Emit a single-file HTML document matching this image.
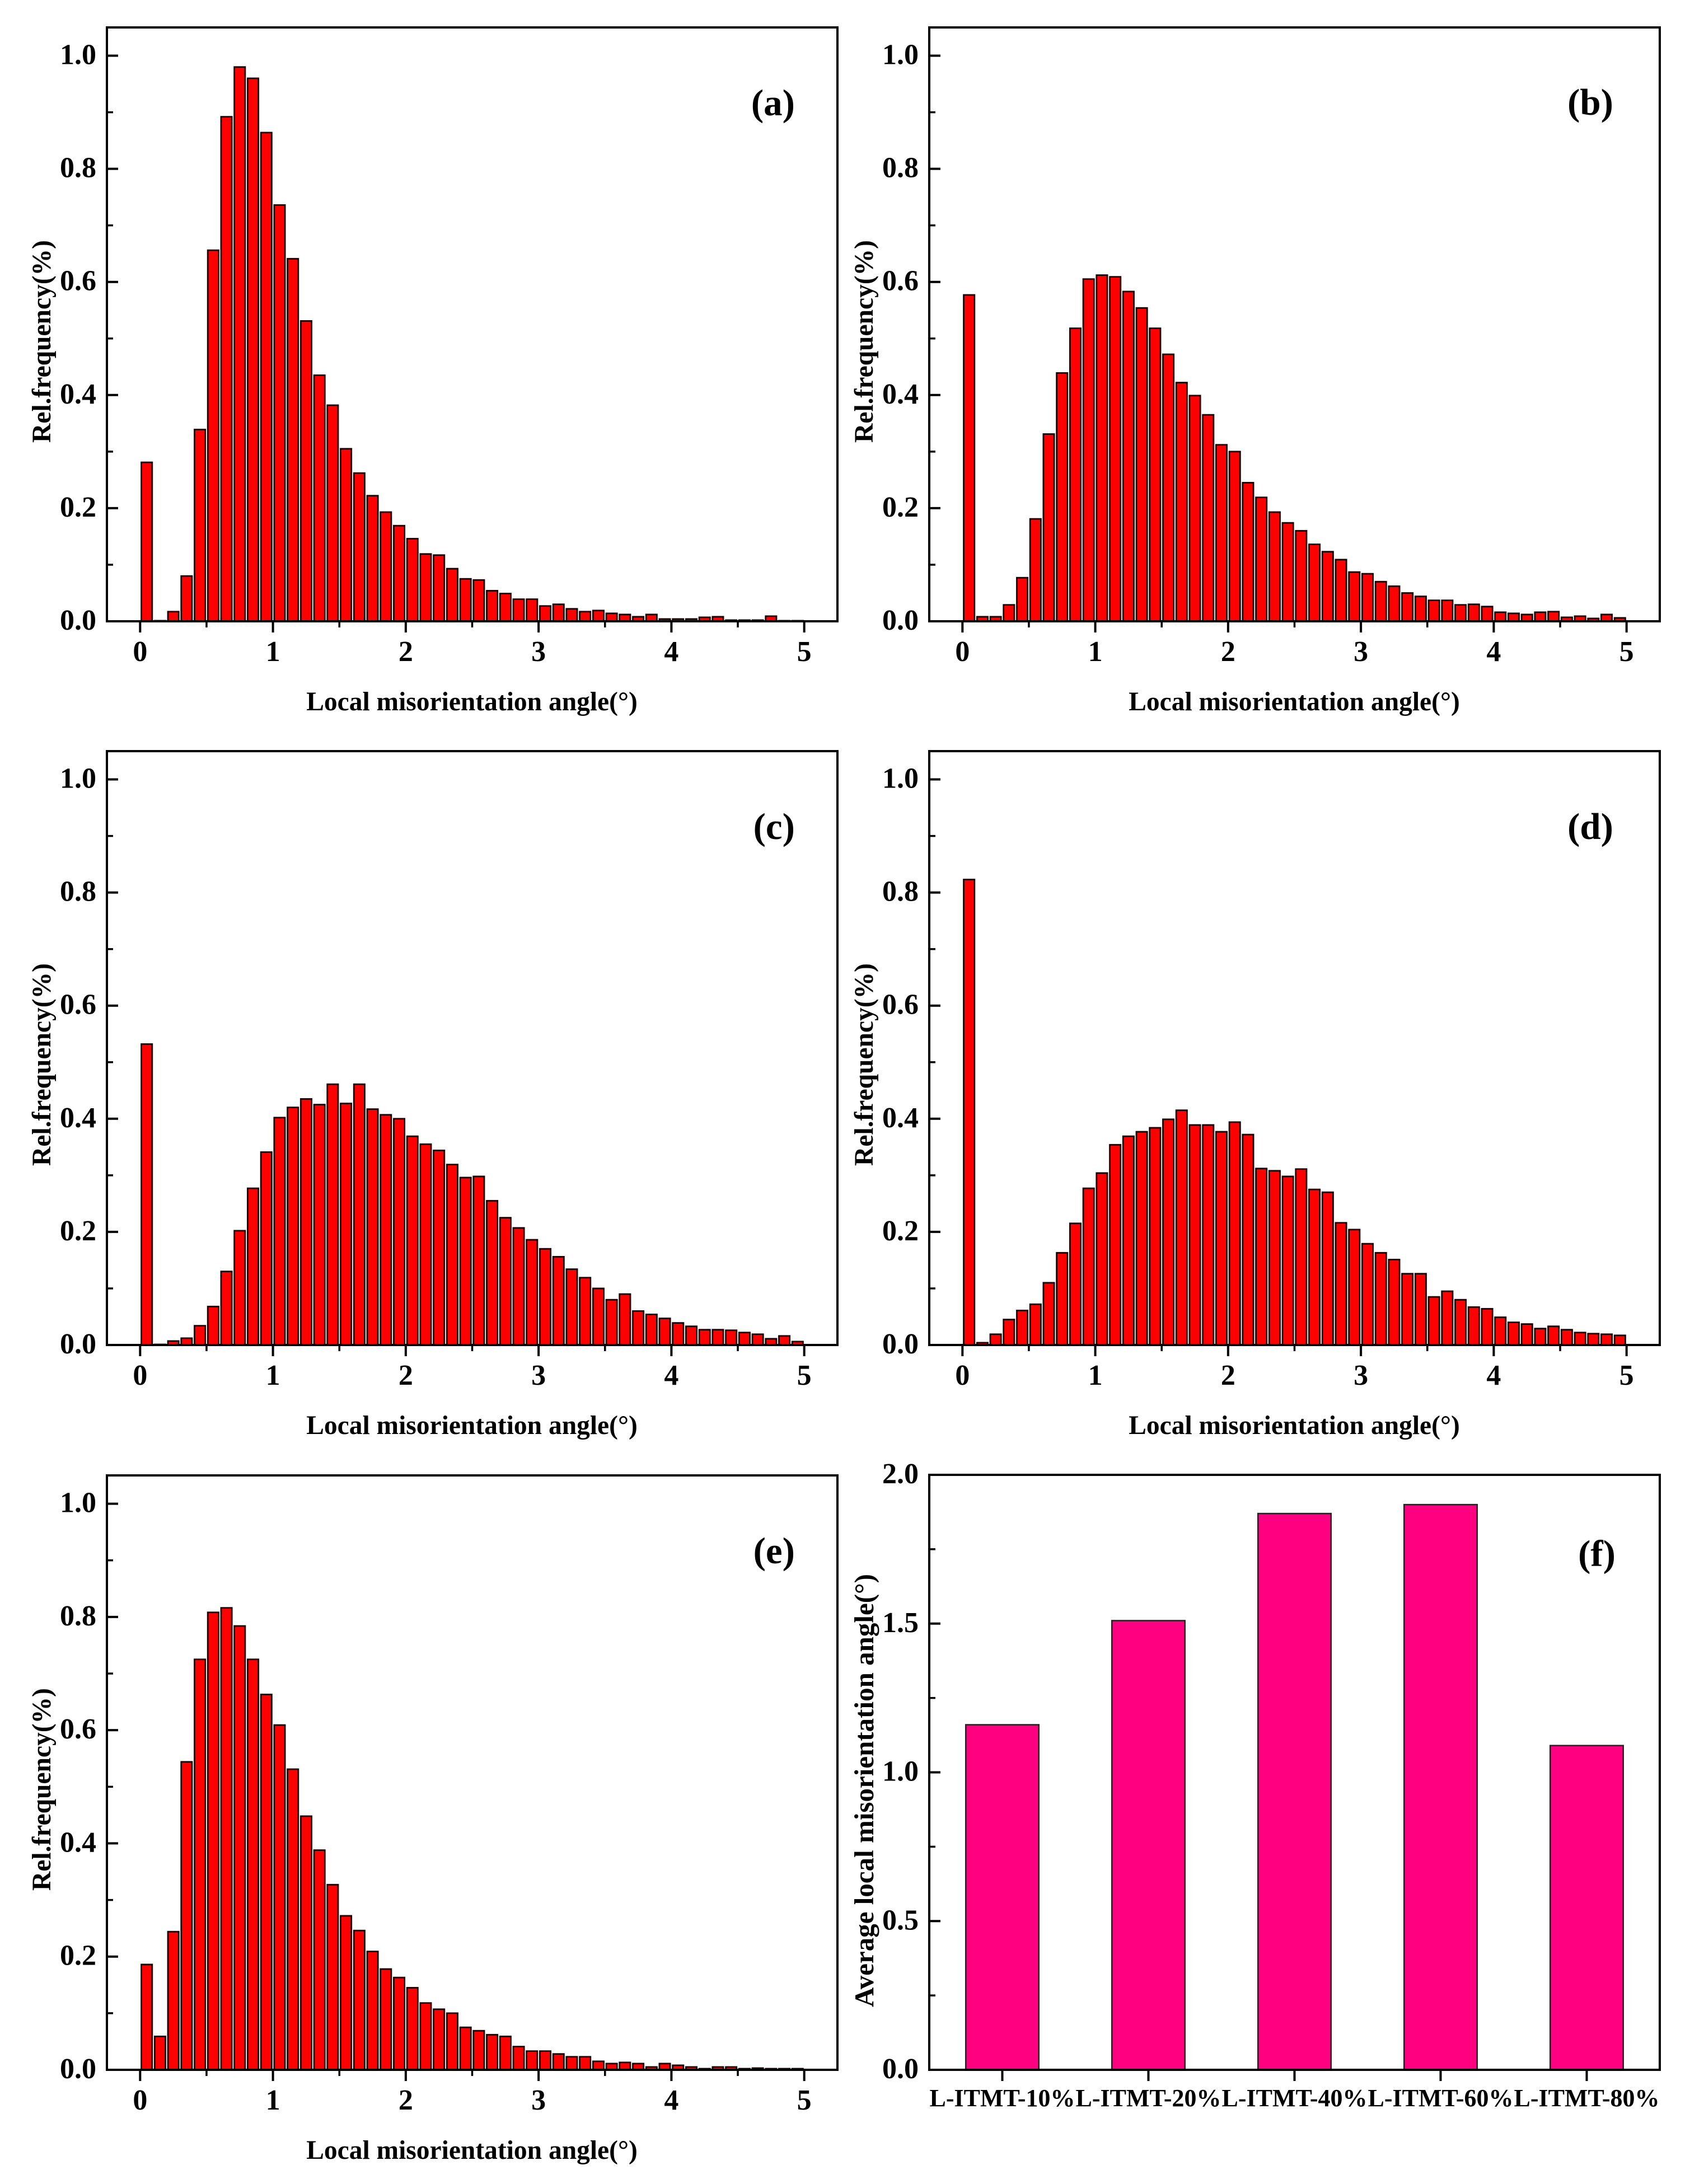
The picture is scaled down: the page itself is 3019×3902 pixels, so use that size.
<!DOCTYPE html>
<html lang="en">
<head>
<meta charset="utf-8">
<title>Local misorientation angle distributions</title>
<style>
  html, body { margin: 0; padding: 0; background: #ffffff; }
  svg { display: block; }
  text { font-family: "Liberation Serif", "Times New Roman", serif; font-weight: bold; fill: #000; }
  .tick-label { font-size: 52px; }
  .axis-title { font-size: 47.5px; }
  .panel-tag { font-size: 67px; text-anchor: end; }
  .cat-label { font-size: 44px; text-anchor: middle; }
  .frame { fill: none; stroke: #000; stroke-width: 4; }
</style>
</head>
<body>
<svg id="figure" xmlns="http://www.w3.org/2000/svg" width="3019" height="3902" viewBox="0 0 3019 3902">
  <rect x="0" y="0" width="3019" height="3902" fill="#ffffff"/>

  <g id="panel-a">
    <g class="marks"></g>
    <rect class="frame" x="191" y="49" width="1305" height="1061"/>
    <g class="ticks"></g>
    <text class="axis-title" x="843" y="1269" text-anchor="middle">Local misorientation angle(°)</text>
    <text class="axis-title" transform="translate(90 610) rotate(-90)" text-anchor="middle">Rel.frequency(%)</text>
    <text class="panel-tag" x="1420" y="206">(a)</text>
  </g>

  <g id="panel-b">
    <g class="marks"></g>
    <rect class="frame" x="1660" y="49" width="1305" height="1061"/>
    <g class="ticks"></g>
    <text class="axis-title" x="2312" y="1269" text-anchor="middle">Local misorientation angle(°)</text>
    <text class="axis-title" transform="translate(1559 610) rotate(-90)" text-anchor="middle">Rel.frequency(%)</text>
    <text class="panel-tag" x="2882" y="205">(b)</text>
  </g>

  <g id="panel-c">
    <g class="marks"></g>
    <rect class="frame" x="191" y="1342" width="1305" height="1061"/>
    <g class="ticks"></g>
    <text class="axis-title" x="843" y="2562" text-anchor="middle">Local misorientation angle(°)</text>
    <text class="axis-title" transform="translate(90 1902) rotate(-90)" text-anchor="middle">Rel.frequency(%)</text>
    <text class="panel-tag" x="1420" y="1499">(c)</text>
  </g>

  <g id="panel-d">
    <g class="marks"></g>
    <rect class="frame" x="1660" y="1342" width="1305" height="1061"/>
    <g class="ticks"></g>
    <text class="axis-title" x="2312" y="2562" text-anchor="middle">Local misorientation angle(°)</text>
    <text class="axis-title" transform="translate(1559 1902) rotate(-90)" text-anchor="middle">Rel.frequency(%)</text>
    <text class="panel-tag" x="2882" y="1499">(d)</text>
  </g>

  <g id="panel-e">
    <g class="marks"></g>
    <rect class="frame" x="191" y="2636" width="1305" height="1062"/>
    <g class="ticks"></g>
    <text class="axis-title" x="843" y="3857" text-anchor="middle">Local misorientation angle(°)</text>
    <text class="axis-title" transform="translate(90 3197) rotate(-90)" text-anchor="middle">Rel.frequency(%)</text>
    <text class="panel-tag" x="1420" y="2793">(e)</text>
  </g>

  <g id="panel-f">
    <g class="marks"></g>
    <rect class="frame" x="1660" y="2635" width="1305" height="1063"/>
    <g class="ticks"></g>
    <text class="axis-title" transform="translate(1560 3199) rotate(-90)" text-anchor="middle" style="font-size:49px">Average local misorientation angle(°)</text>
    <text class="panel-tag" x="2886" y="2798">(f)</text>
  </g>
</svg>

<script>
const binCenters = [0.05,0.15,0.25,0.35,0.45,0.55,0.65,0.75,0.85,0.95,1.05,1.15,1.25,1.35,1.45,1.55,1.65,1.75,1.85,1.95,2.05,2.15,2.25,2.35,2.45,2.55,2.65,2.75,2.85,2.95,3.05,3.15,3.25,3.35,3.45,3.55,3.65,3.75,3.85,3.95,4.05,4.15,4.25,4.35,4.45,4.55,4.65,4.75,4.85,4.95];
const valuesA = [0.281,0.001,0.017,0.080,0.339,0.656,0.892,0.980,0.960,0.864,0.736,0.641,0.531,0.435,0.382,0.305,0.262,0.222,0.193,0.169,0.146,0.119,0.117,0.093,0.075,0.073,0.054,0.049,0.039,0.039,0.027,0.030,0.022,0.017,0.019,0.014,0.012,0.008,0.012,0.004,0.004,0.004,0.007,0.008,0.002,0.002,0.002,0.009,0.001,0.001];
const valuesB = [0.577,0.008,0.008,0.029,0.077,0.181,0.331,0.439,0.518,0.605,0.612,0.609,0.583,0.554,0.518,0.472,0.422,0.399,0.365,0.312,0.300,0.245,0.219,0.193,0.174,0.160,0.136,0.123,0.109,0.087,0.084,0.070,0.062,0.050,0.044,0.037,0.037,0.029,0.030,0.026,0.016,0.014,0.012,0.016,0.017,0.007,0.009,0.005,0.012,0.006];
const valuesC = [0.532,0.001,0.007,0.012,0.034,0.068,0.130,0.202,0.277,0.341,0.402,0.420,0.435,0.425,0.461,0.427,0.461,0.417,0.407,0.400,0.369,0.355,0.344,0.319,0.296,0.298,0.255,0.225,0.207,0.186,0.170,0.156,0.134,0.119,0.100,0.080,0.090,0.060,0.054,0.047,0.039,0.033,0.027,0.027,0.026,0.022,0.019,0.011,0.016,0.006];
const valuesD = [0.823,0.004,0.019,0.045,0.061,0.072,0.110,0.163,0.215,0.277,0.304,0.354,0.369,0.377,0.384,0.399,0.415,0.389,0.389,0.377,0.394,0.372,0.312,0.308,0.298,0.311,0.275,0.270,0.216,0.204,0.179,0.163,0.151,0.126,0.126,0.085,0.095,0.080,0.067,0.064,0.049,0.040,0.037,0.029,0.033,0.027,0.022,0.020,0.019,0.017];
const valuesE = [0.186,0.059,0.244,0.544,0.725,0.808,0.816,0.784,0.725,0.663,0.609,0.531,0.448,0.388,0.327,0.272,0.246,0.209,0.178,0.163,0.145,0.118,0.107,0.100,0.075,0.069,0.062,0.059,0.041,0.033,0.033,0.028,0.023,0.023,0.015,0.011,0.013,0.011,0.005,0.011,0.008,0.005,0.002,0.005,0.005,0.002,0.003,0.002,0.002,0.002];
const categoriesF = ["L-ITMT-10%","L-ITMT-20%","L-ITMT-40%","L-ITMT-60%","L-ITMT-80%"];
const valuesF = [1.16,1.51,1.87,1.90,1.09];
const histYTicks = ["0.0","0.2","0.4","0.6","0.8","1.0"];
const histYMinorTicks = [0.1,0.3,0.5,0.7,0.9];
const histXTicks = ["0","1","2","3","4","5"];
const histXMinorTicks = [0.5,1.5,2.5,3.5,4.5];
const fYTicks = ["0.0","0.5","1.0","1.5","2.0"];
const fYMinorTicks = [0.25,0.75,1.25,1.75];

const SVG_NS = "http://www.w3.org/2000/svg";

function linearScale(d0, d1, r0, r1) {
  return function (v) { return r0 + (v - d0) * (r1 - r0) / (d1 - d0); };
}

function make(tag, parent, attrs, label) {
  const el = document.createElementNS(SVG_NS, tag);
  for (const k in attrs) el.setAttribute(k, attrs[k]);
  if (label !== undefined) el.textContent = label;
  parent.appendChild(el);
  return el;
}

function drawYAxis(g, yScale, left, majors, minors) {
  majors.forEach(function (lab) {
    const y = yScale(parseFloat(lab));
    const t = make("line", g, { x1: left, x2: left + 20, y1: y, y2: y, stroke: "#000", "stroke-width": 4 });
    
    
    const txt = make("text", g, { class: "tick-label", x: left - 19, y: y + 15, "text-anchor": "end" }, lab);
    
    
  });
  minors.forEach(function (v) {
    const y = yScale(v);
    const t = make("line", g, { x1: left, x2: left + 11, y1: y, y2: y, stroke: "#000", "stroke-width": 3.5 });
    
    
  });
}

function drawHistogram(panelId, left, right, top, bottom, values) {
  const panel = document.getElementById(panelId);
  const marks = panel.querySelector(".marks");
  const ticks = panel.querySelector(".ticks");
  const xScale = linearScale(-0.25, 5.25, left, right);
  const yScale = linearScale(0, 1.05, bottom, top);
  const barWidth = 0.081;

  values.forEach(function (v, i) {
    const c = binCenters[i];
    const x0 = xScale(c - barWidth / 2);
    const x1 = xScale(c + barWidth / 2);
    const bar = make("rect", marks, {
      x: x0, y: yScale(v), width: x1 - x0, height: yScale(0) - yScale(v),
      fill: "#ff0000", stroke: "#1a0000", "stroke-width": 2.8
    });
    
    
  });

  drawYAxis(ticks, yScale, left, histYTicks, histYMinorTicks);

  histXTicks.forEach(function (lab) {
    const x = xScale(parseFloat(lab));
    const t = make("line", ticks, { x1: x, x2: x, y1: bottom, y2: bottom + 20, stroke: "#000", "stroke-width": 4 });
    
    
    const txt = make("text", ticks, { class: "tick-label", x: x, y: bottom + 71, "text-anchor": "middle" }, lab);
    
    
  });
  histXMinorTicks.forEach(function (v) {
    const x = xScale(v);
    const t = make("line", ticks, { x1: x, x2: x, y1: bottom, y2: bottom + 11, stroke: "#000", "stroke-width": 3.5 });
    
    
  });
}

function drawColumnPanel(panelId, left, right, top, bottom) {
  const panel = document.getElementById(panelId);
  const marks = panel.querySelector(".marks");
  const ticks = panel.querySelector(".ticks");
  const xScale = linearScale(0.5, categoriesF.length + 0.5, left, right);
  const yScale = linearScale(0, 2, bottom, top);
  const barWidth = 0.5;

  valuesF.forEach(function (v, i) {
    const x0 = xScale(i + 1 - barWidth / 2);
    const x1 = xScale(i + 1 + barWidth / 2);
    const bar = make("rect", marks, {
      x: x0, y: yScale(v), width: x1 - x0, height: yScale(0) - yScale(v),
      fill: "#ff0080", stroke: "#222", "stroke-width": 2.5
    });
    
    
  });

  drawYAxis(ticks, yScale, left, fYTicks, fYMinorTicks);

  categoriesF.forEach(function (lab, i) {
    const x = xScale(i + 1);
    const t = make("line", ticks, { x1: x, x2: x, y1: bottom, y2: bottom + 20, stroke: "#000", "stroke-width": 4 });
    
    
    const txt = make("text", ticks, { class: "cat-label", x: x, y: bottom + 65 }, lab);
    
    
  });
}

drawHistogram("panel-a", 191, 1496, 49, 1110, valuesA);
drawHistogram("panel-b", 1660, 2965, 49, 1110, valuesB);
drawHistogram("panel-c", 191, 1496, 1342, 2403, valuesC);
drawHistogram("panel-d", 1660, 2965, 1342, 2403, valuesD);
drawHistogram("panel-e", 191, 1496, 2636, 3698, valuesE);
drawColumnPanel("panel-f", 1660, 2965, 2635, 3698);
</script>
</body>
</html>
